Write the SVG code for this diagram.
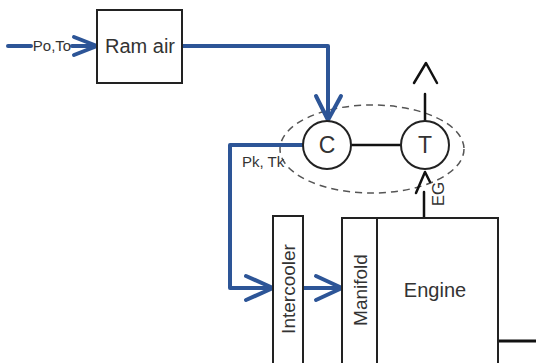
<svg xmlns="http://www.w3.org/2000/svg" width="536" height="363" viewBox="0 0 536 363">
<style>
.box{fill:#fff;stroke:#222;stroke-width:2}
.blue{fill:none;stroke:#2d5597;stroke-width:4;stroke-linejoin:round;stroke-linecap:round}
.blk{fill:none;stroke:#111;stroke-width:2.5;stroke-linecap:round;stroke-linejoin:round}
.t{font-family:"Liberation Sans",Arial,sans-serif;fill:#333}
</style>
<rect width="536" height="363" fill="#fff"/>
<g id="turbo-ellipse">
<ellipse cx="372" cy="149" rx="92" ry="44" fill="none" stroke="#555" stroke-width="1.5" stroke-dasharray="7,5"/>
</g>
<g id="connectors">
<path class="blue" d="M8,46 H31"/>
<path class="blue" d="M72,46 H97"/>
<path class="blue" d="M74,37 L97,46 L74,55"/>
<path class="blue" d="M182,46 H328 V120"/>
<path class="blue" d="M316,96 L328,120 L341,96"/>
<path class="blue" d="M303,145 H230 V288 H273"/>
<path class="blue" d="M246,276 L273,288 L246,300"/>
<path class="blue" d="M303,288 H342"/>
<path class="blue" d="M316,276 L342,288 L316,300"/>
<path class="blk" d="M352,145 H401"/>
<path class="blk" d="M425,121 V94"/>
<path class="blk" d="M414,83 L426,63 L437,83"/>
<path class="blk" d="M424,218 V192"/>
<path class="blk" d="M416,193 L425,172 L430,182"/>
<path d="M498,341 H536" fill="none" stroke="#111" stroke-width="3"/>
</g>
<g id="input-label"><text class="t" x="52" y="51" font-size="15" text-anchor="middle">Po,To</text></g>
<g id="ram-air">
<rect class="box" x="97" y="10" width="85" height="73"/>
<text class="t" x="140" y="53" font-size="20" text-anchor="middle">Ram air</text>
</g>
<g id="compressor">
<circle class="box" cx="327" cy="145" r="24"/>
<text class="t" x="327" y="153" font-size="23" text-anchor="middle">C</text>
</g>
<g id="turbine">
<circle class="box" cx="425" cy="145" r="24"/>
<text class="t" x="425" y="153" font-size="23" text-anchor="middle">T</text>
</g>
<g id="pk-label"><text class="t" x="242" y="167" font-size="15">Pk, Tk</text></g>
<g id="eg-label"><text class="t" font-size="17" text-anchor="middle" transform="translate(444,194) rotate(-90)">EG</text></g>
<g id="intercooler">
<rect class="box" x="273" y="216" width="30" height="160"/>
<text class="t" font-size="19" text-anchor="middle" transform="translate(295,289) rotate(-90)">Intercooler</text>
</g>
<g id="manifold">
<rect class="box" x="342" y="218" width="35" height="160"/>
<text class="t" font-size="19" text-anchor="middle" transform="translate(367,290) rotate(-90)">Manifold</text>
</g>
<g id="engine">
<rect class="box" x="377" y="218" width="121" height="160"/>
<text class="t" x="435" y="297" font-size="20" text-anchor="middle">Engine</text>
</g>
</svg>
